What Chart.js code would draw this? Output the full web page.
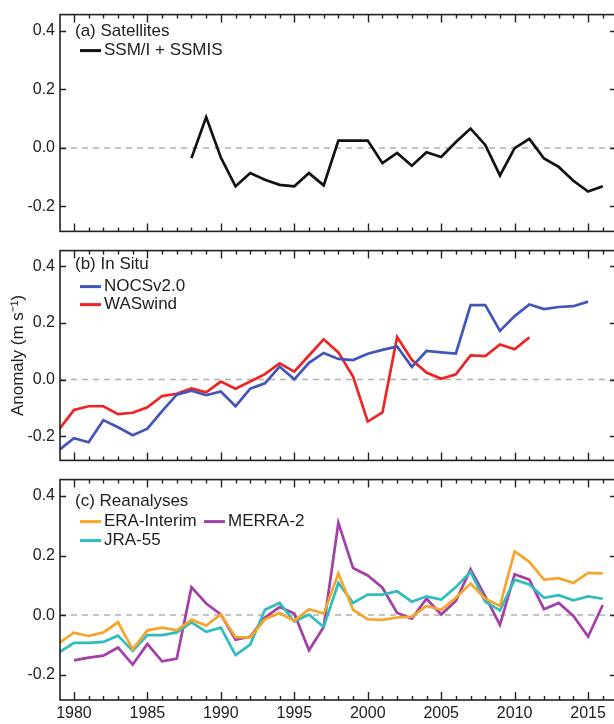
<!DOCTYPE html>
<html>
<head>
<meta charset="utf-8">
<script src="https://cdn.jsdelivr.net/npm/chart.js@4.4.1/dist/chart.umd.min.js"></script>
<style>
  html, body { margin: 0; padding: 0; background: #fff; }
  #wrap { position: relative; width: 614px; height: 724px; overflow: hidden; }
  #wrap canvas { position: absolute; left: 0; }
</style>
</head>
<body>
<div id="wrap">
  <canvas id="panelA" width="630" height="246" style="top:0px"></canvas>
  <canvas id="panelB" width="630" height="239" style="top:236px"></canvas>
  <canvas id="panelC" width="630" height="259" style="top:465px"></canvas>
</div>
<script>
// years shared by all panels
const years = [1979, 1980, 1981, 1982, 1983, 1984, 1985, 1986, 1987, 1988,
  1989, 1990, 1991, 1992, 1993, 1994, 1995, 1996, 1997, 1998,
  1999, 2000, 2001, 2002, 2003, 2004, 2005, 2006, 2007, 2008,
  2009, 2010, 2011, 2012, 2013, 2014, 2015, 2016];
const xTickYears = [1980, 1985, 1990, 1995, 2000, 2005, 2010, 2015];
const yTickValues = [0.4, 0.2, 0.0, -0.2];

// (a) Satellites
const ssmi = [null, null, null, null, null, null, null, null, null,
  -0.035, 0.105, -0.033, -0.131, -0.086, -0.109, -0.126, -0.131, -0.086, -0.128,
  0.025, 0.025, 0.025, -0.052, -0.017, -0.061, -0.015, -0.031, 0.020, 0.066,
  0.010, -0.094, -0.001, 0.031, -0.036, -0.065, -0.112, -0.149, -0.131];

// (b) In situ
const nocs = [-0.248, -0.207, -0.221, -0.143, -0.168, -0.196, -0.173, -0.111, -0.053, -0.039,
  -0.055, -0.042, -0.094, -0.032, -0.013, 0.046, 0.001, 0.059, 0.094, 0.073,
  0.069, 0.091, 0.105, 0.117, 0.045, 0.101, 0.096, 0.092, 0.263, 0.263,
  0.172, 0.224, 0.265, 0.249, 0.256, 0.259, 0.275, null];
const waswind = [-0.175, -0.107, -0.094, -0.094, -0.122, -0.117, -0.098, -0.058, -0.050, -0.031,
  -0.045, -0.007, -0.032, -0.007, 0.019, 0.057, 0.028, 0.085, 0.142, 0.096,
  0.011, -0.148, -0.116, 0.150, 0.070, 0.025, 0.003, 0.019, 0.085, 0.083,
  0.124, 0.107, 0.149, null, null, null, null, null];

// (c) Reanalyses
const eraInterim = [-0.093, -0.059, -0.070, -0.058, -0.024, -0.115, -0.051, -0.042, -0.051, -0.016,
  -0.035, 0.002, -0.074, -0.075, -0.014, 0.007, -0.019, 0.020, 0.005, 0.140,
  0.018, -0.014, -0.016, -0.008, -0.005, 0.031, 0.018, 0.058, 0.106, 0.055,
  0.031, 0.214, 0.179, 0.119, 0.124, 0.108, 0.142, 0.140];
const jra55 = [-0.125, -0.093, -0.093, -0.090, -0.069, -0.120, -0.067, -0.067, -0.058, -0.024,
  -0.056, -0.042, -0.134, -0.099, 0.018, 0.041, -0.022, 0.002, -0.040, 0.108,
  0.041, 0.069, 0.069, 0.080, 0.045, 0.063, 0.052, 0.094, 0.145, 0.045,
  0.016, 0.119, 0.103, 0.058, 0.067, 0.050, 0.063, 0.055];
const merra2 = [null, -0.152, -0.143, -0.136, -0.109, -0.166, -0.097, -0.155, -0.146, 0.094,
  0.039, 0.002, -0.083, -0.072, -0.008, 0.027, 0.005, -0.118, -0.040, 0.310,
  0.158, 0.133, 0.092, 0.007, -0.012, 0.055, 0.002, 0.048, 0.154, 0.063,
  -0.033, 0.137, 0.119, 0.020, 0.041, -0.003, -0.072, 0.034];

const FONT = '"Liberation Sans Narrow", "Liberation Sans", Arial, sans-serif';
const LEGEND_FONT = '"Liberation Sans", Arial, sans-serif';

function series(label, values, color) {
  return {
    label,
    data: years.map((y, i) => ({ x: y, y: values[i] })),
    borderColor: color,
    borderWidth: 2.7,
    pointRadius: 0,
    tension: 0,
    spanGaps: false
  };
}

// frame, inward ticks, zero line and the in-panel legend
const panelDecor = {
  id: 'panelDecor',
  beforeDatasetsDraw(chart) {
    const { ctx, chartArea: a, scales } = chart;
    const y0 = scales.y.getPixelForValue(0);
    ctx.save();
    ctx.strokeStyle = '#b0b0b0';
    ctx.lineWidth = 1.5;
    ctx.setLineDash([6, 5]);
    ctx.beginPath();
    ctx.moveTo(a.left, y0);
    ctx.lineTo(a.right, y0);
    ctx.stroke();
    ctx.restore();
  },
  afterDatasetsDraw(chart) {
    const { ctx, chartArea: a, scales } = chart;
    ctx.save();
    ctx.strokeStyle = '#222';
    ctx.lineWidth = 1.6;
    ctx.strokeRect(a.left, a.top, a.right - a.left, a.bottom - a.top);
    ctx.lineWidth = 1.4;
    ctx.beginPath();
    for (let yr = Math.ceil(scales.x.min); yr <= scales.x.max; yr++) {
      const x = Math.round(scales.x.getPixelForValue(yr)) + 0.5;
      const len = yr % 5 === 0 ? 8 : 4;
      ctx.moveTo(x, a.top);
      ctx.lineTo(x, a.top + len);
      ctx.moveTo(x, a.bottom);
      ctx.lineTo(x, a.bottom - len);
    }
    yTickValues.forEach(v => {
      const y = Math.round(scales.y.getPixelForValue(v)) + 0.5;
      ctx.moveTo(a.left, y);
      ctx.lineTo(a.left + 6, y);
      ctx.moveTo(a.right, y);
      ctx.lineTo(a.right - 6, y);
    });
    ctx.stroke();
    ctx.restore();
  },
  afterDraw(chart, args, opts) {
    const { ctx, chartArea: a } = chart;
    ctx.save();
    ctx.font = '17px ' + LEGEND_FONT;
    ctx.textBaseline = 'middle';
    ctx.fillStyle = '#222';
    ctx.fillText(opts.title, 75, a.top + opts.titleOffset);
    (opts.items || []).forEach(it => {
      const y = a.top + it.dy;
      ctx.strokeStyle = it.color;
      ctx.lineWidth = 3;
      ctx.beginPath();
      ctx.moveTo(it.x, y);
      ctx.lineTo(it.x + 21, y);
      ctx.stroke();
      ctx.fillText(it.text, it.x + 24, y);
    });
    ctx.restore();
  }
};

function makePanel(id, datasets, legend, showXLabels, pad, yTitle) {
  return new Chart(document.getElementById(id), {
    type: 'line',
    data: { datasets },
    options: {
      responsive: false,
      animation: false,
      layout: { padding: { top: pad.top, bottom: pad.bottom, left: 0, right: 14 } },
      plugins: {
        legend: { display: false },
        tooltip: { enabled: false },
        panelDecor: legend
      },
      scales: {
        x: {
          type: 'linear',
          min: 1979.05,
          max: 2016.9,
          display: showXLabels,
          afterBuildTicks: s => { s.ticks = xTickYears.map(v => ({ value: v })); },
          afterFit: s => { if (showXLabels) s.height = 24; },
          grid: { display: false, drawTicks: false },
          border: { display: false },
          ticks: {
            autoSkip: false,
            maxRotation: 0,
            padding: 4,
            color: '#222',
            font: { family: FONT, size: 16 },
            callback: v => String(v)
          }
        },
        y: {
          type: 'linear',
          min: -0.285,
          max: 0.455,
          afterBuildTicks: s => { s.ticks = yTickValues.map(v => ({ value: v })); },
          afterFit: s => { s.width = 60; },
          grid: { display: false, drawTicks: false },
          border: { display: false },
          title: {
            display: !!yTitle,
            text: yTitle || '',
            color: '#222',
            font: { family: LEGEND_FONT, size: 17 },
            padding: { top: 8, bottom: 0 }
          },
          ticks: {
            padding: 5,
            color: '#222',
            font: { family: FONT, size: 16 },
            callback: v => v.toFixed(1)
          }
        }
      }
    },
    plugins: [panelDecor]
  });
}

makePanel('panelA',
  [series('SSM/I + SSMIS', ssmi, '#111111')],
  { title: '(a) Satellites', titleOffset: 17,
    items: [{ text: 'SSM/I + SSMIS', color: '#111111', x: 80, dy: 36 }] },
  false, { top: 12, bottom: 5 });

makePanel('panelB',
  [series('NOCSv2.0', nocs, '#4255bb'), series('WASwind', waswind, '#ee2424')],
  { title: '(b) In Situ', titleOffset: 14,
    items: [
      { text: 'NOCSv2.0', color: '#4255bb', x: 80, dy: 36 },
      { text: 'WASwind', color: '#ee2424', x: 80, dy: 54 }
    ] },
  false, { top: 5, bottom: 5 }, 'Anomaly (m s\u207B\u00B9)');

makePanel('panelC',
  [series('ERA-Interim', eraInterim, '#f6a42a'),
   series('JRA-55', jra55, '#2fbcbc'),
   series('MERRA-2', merra2, '#a23fa8')],
  { title: '(c) Reanalyses', titleOffset: 22,
    items: [
      { text: 'ERA-Interim', color: '#f6a42a', x: 80, dy: 42 },
      { text: 'MERRA-2', color: '#a23fa8', x: 204, dy: 42 },
      { text: 'JRA-55', color: '#2fbcbc', x: 80, dy: 61 }
    ] },
  true, { top: 5, bottom: 0 });
</script>
</body>
</html>
